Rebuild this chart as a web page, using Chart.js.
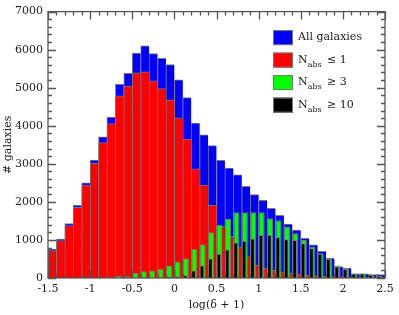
<!DOCTYPE html>
<html>
<head>
<meta charset="utf-8">
<script src="https://cdn.jsdelivr.net/npm/chart.js@4.4.0/dist/chart.umd.min.js"></script>
<style>
  html, body { margin: 0; padding: 0; background: #fff; }
  #wrap { position: relative; width: 399px; height: 315px; }
</style>
</head>
<body>
<div id="wrap"><canvas id="hist"></canvas></div>
<script>
// bin centres of log(delta+1), bin width 0.1
var BIN_CENTERS = [-1.45, -1.35, -1.25, -1.15, -1.05, -0.95, -0.85, -0.75, -0.65, -0.55,
                   -0.45, -0.35, -0.25, -0.15, -0.05, 0.05, 0.15, 0.25, 0.35, 0.45,
                   0.55, 0.65, 0.75, 0.85, 0.95, 1.05, 1.15, 1.25, 1.35, 1.45,
                   1.55, 1.65, 1.75, 1.85, 1.95, 2.05, 2.15, 2.25, 2.35, 2.45];
var ALL_GAL = [760, 1020, 1430, 1910, 2500, 3100, 3710, 4230, 5090, 5380,
               5910, 6100, 5900, 5770, 5610, 5210, 4740, 4070, 3760, 3480,
               3090, 2890, 2710, 2410, 2190, 2040, 1830, 1650, 1420, 1260,
               1040, 870, 700, 520, 300, 260, 110, 110, 90, 90];
var N_LE1 = [720, 980, 1380, 1860, 2440, 3010, 3560, 4060, 4790, 5040,
             5390, 5420, 5180, 4980, 4680, 4210, 3650, 2870, 2440, 1910,
             1350, 1100, 820, 560, 340, 260, 200, 160, 120, 100,
             80, 60, 50, 40, 30, 20, 10, 10, 5, 5];
var N_GE3 = [0, 0, 0, 0, 5, 5, 10, 20, 50, 45,
             130, 175, 200, 240, 330, 435, 520, 760, 890, 1200,
             1400, 1550, 1725, 1725, 1725, 1725, 1570, 1520, 1350, 1175,
             1000, 830, 650, 500, 330, 260, 115, 115, 90, 60];
var N_GE10 = [0, 0, 0, 0, 0, 0, 0, 0, 2, 3,
              5, 8, 10, 15, 40, 45, 70, 200, 330, 510,
              640, 750, 930, 970, 1040, 1130, 1130, 1070, 1020, 1000,
              910, 780, 640, 500, 300, 235, 113, 113, 87, 61];
var SERIES = ["All galaxies", "N_abs ≤ 1", "N_abs ≥ 3", "N_abs ≥ 10"];
var X_MIN = -1.5, X_MAX = 2.5, X_STEP = 0.5, X_MINOR = 0.1;
var Y_MIN = 0, Y_MAX = 7000, Y_STEP = 1000, Y_MINOR = 200;

var BLUE = "#0000ff", RED = "#ff0000", GREEN = "#00ff00", BLACK = "#000000",
    EDGE = "#777777", AXIS = "#555555", INK = "#222222", SERIF = "'DejaVu Serif', serif";

// narrower bars are drawn flush with the left edge of their bin
var GREEN_W = 0.72, BLACK_W = 0.55;
function shift(w) { return (1 - w) * X_MINOR / 2; }

function pts(arr) { return BIN_CENTERS.map(function (x, i) { return { x: x, y: arr[i] }; }); }

// inward ticks on all four sides + frame
var frame = {
  id: "frame",
  afterDatasetsDraw: function (chart) {
    var a = chart.chartArea, sx = chart.scales.x, sy = chart.scales.y, ctx = chart.ctx, i, p, len;
    ctx.save();
    ctx.strokeStyle = AXIS; ctx.lineWidth = 1.3;
    ctx.strokeRect(a.left, a.top, a.right - a.left, a.bottom - a.top);
    ctx.beginPath();
    var nx = Math.round((X_MAX - X_MIN) / X_MINOR);
    for (i = 0; i <= nx; i++) {
      p = Math.round(sx.getPixelForValue(X_MIN + i * X_MINOR)) + 0.5;
      len = i % Math.round(X_STEP / X_MINOR) === 0 ? 8 : 4;
      ctx.moveTo(p, a.bottom); ctx.lineTo(p, a.bottom - len);
      ctx.moveTo(p, a.top); ctx.lineTo(p, a.top + len);
    }
    var ny = Math.round((Y_MAX - Y_MIN) / Y_MINOR);
    for (i = 0; i <= ny; i++) {
      p = Math.round(sy.getPixelForValue(Y_MIN + i * Y_MINOR)) + 0.5;
      len = i % Math.round(Y_STEP / Y_MINOR) === 0 ? 8 : 4;
      ctx.moveTo(a.left, p); ctx.lineTo(a.left + len, p);
      ctx.moveTo(a.right, p); ctx.lineTo(a.right - len, p);
    }
    ctx.stroke();
    ctx.restore();
  }
};

// legend inside the plot, with subscripts
var legendBox = {
  id: "legendBox",
  afterDraw: function (chart) {
    var ctx = chart.ctx, a = chart.chartArea;
    var x0 = a.right - 112, y0 = a.top + 26;
    ctx.save();
    ctx.textBaseline = "middle";
    chart.data.datasets.forEach(function (ds, i) {
      var yc = y0 + i * 22.5;
      ctx.fillStyle = ds.backgroundColor;
      ctx.fillRect(x0, yc - 7.5, 20, 15);
      ctx.strokeStyle = EDGE; ctx.lineWidth = 1;
      ctx.strokeRect(x0 + 0.5, yc - 7, 19, 14);
      var parts = SERIES[i].split(/_(\S+)/);
      var tx = x0 + 25;
      ctx.fillStyle = INK;
      ctx.font = "11px " + SERIF;
      ctx.fillText(parts[0], tx, yc);
      if (parts.length > 1) {
        tx += ctx.measureText(parts[0]).width;
        ctx.font = "8px " + SERIF;
        ctx.fillText(parts[1], tx, yc + 4.5);
        tx += ctx.measureText(parts[1]).width + 2;
        ctx.font = "11px " + SERIF;
        ctx.fillText(parts[2], tx, yc);
      }
    });
    ctx.restore();
  }
};

function barSet(label, arr, color, axis, w, order) {
  return {
    label: label, data: pts(arr), xAxisID: axis, order: order,
    backgroundColor: color, borderColor: EDGE,
    borderWidth: w === 1 ? { left: 1, top: 1, right: 0, bottom: 0 } : 1,
    grouped: false, barPercentage: w, categoryPercentage: 1
  };
}

new Chart(document.getElementById("hist"), {
  type: "bar",
  data: {
    datasets: [
      barSet(SERIES[0], ALL_GAL, BLUE, "x", 1, 4),
      barSet(SERIES[1], N_LE1, RED, "x", 1, 3),
      barSet(SERIES[2], N_GE3, GREEN, "xg", GREEN_W, 2),
      barSet(SERIES[3], N_GE10, BLACK, "xb", BLACK_W, 1)
    ]
  },
  options: {
    responsive: true, maintainAspectRatio: false, animation: false,
    layout: { padding: { top: 10, right: 14, left: 0, bottom: 0 } },
    plugins: { legend: { display: false }, tooltip: { enabled: false } },
    scales: {
      x: {
        type: "linear", min: X_MIN, max: X_MAX, offset: false,
        grid: { display: false, drawTicks: false }, border: { display: false },
        ticks: { stepSize: X_STEP, padding: 5, color: INK, font: { family: SERIF, size: 11 },
                 maxRotation: 0, callback: function (v) { return String(v); } },
        title: { display: true, text: "log(δ + 1)", color: INK, font: { family: SERIF, size: 11 },
                 padding: { top: 0, bottom: 3 } },
        afterFit: function (s) { s.height = 37; }
      },
      xg: { type: "linear", display: false, offset: false, min: X_MIN + shift(GREEN_W), max: X_MAX + shift(GREEN_W), ticks: { stepSize: 1 } },
      xb: { type: "linear", display: false, offset: false, min: X_MIN + shift(BLACK_W), max: X_MAX + shift(BLACK_W), ticks: { stepSize: 1 } },
      y: {
        min: Y_MIN, max: Y_MAX,
        grid: { display: false, drawTicks: false }, border: { display: false },
        ticks: { stepSize: Y_STEP, padding: 5, color: INK, font: { family: SERIF, size: 11 },
                 callback: function (v) { return String(v); } },
        title: { display: true, text: "# galaxies", color: INK, font: { family: SERIF, size: 11 },
                 padding: { top: 2, bottom: 0 } },
        afterFit: function (s) { s.width = 48; }
      }
    }
  },
  plugins: [frame, legendBox]
});
</script>
</body>
</html>
